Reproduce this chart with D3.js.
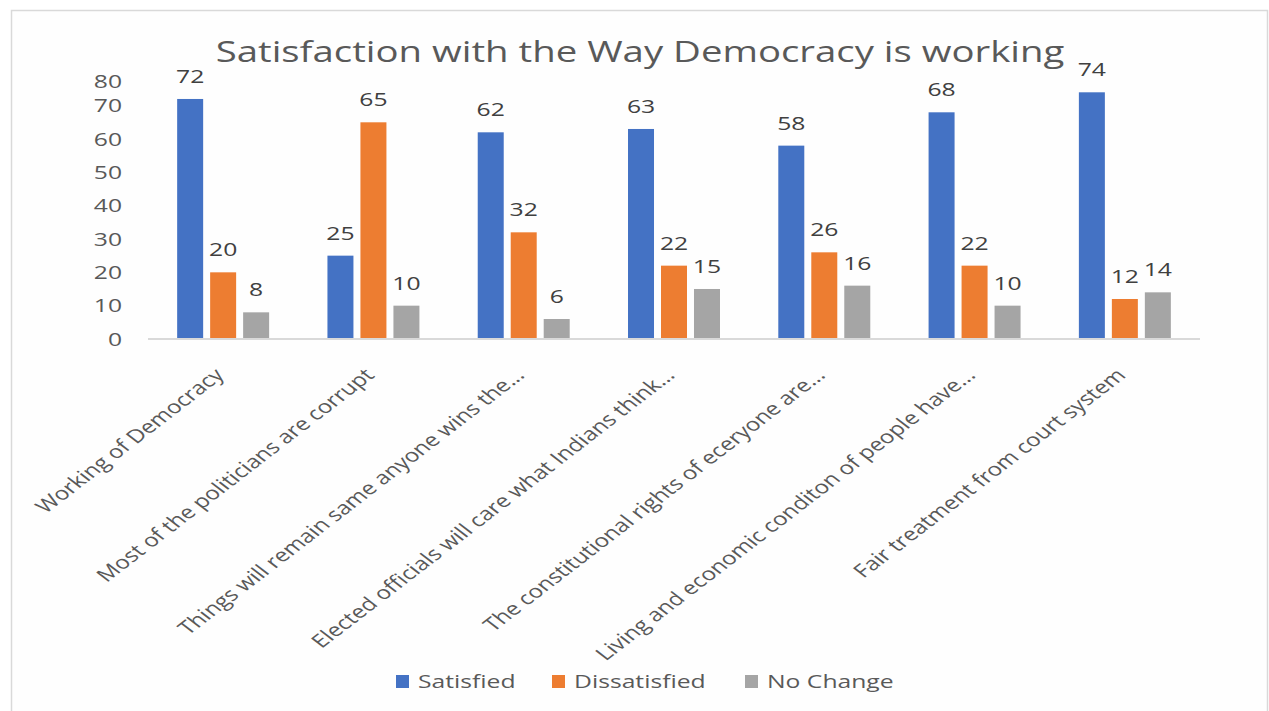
<!DOCTYPE html>
<html>
<head>
<meta charset="utf-8">
<script src="https://cdn.jsdelivr.net/npm/d3@7"></script>
<style>
  body { margin:0; background:#fff; }
  text { font-family:"Open Sans", "Noto Sans", sans-serif; }
</style>
</head>
<body>
<svg id="chart" width="1269" height="711"></svg>
<script>
const categories = [
  "Working of Democracy",
  "Most of the politicians are corrupt",
  "Things will remain same anyone wins the...",
  "Elected officials will care what Indians think...",
  "The constitutional rights of eceryone are...",
  "Living and economic conditon of people have...",
  "Fair treatment from court system"
]
const seriesNames = ["Satisfied", "Dissatisfied", "No Change"]
const satisfied = [72, 25, 62, 63, 58, 68, 74]
const dissatisfied = [20, 65, 32, 22, 26, 22, 12]
const noChange = [8, 10, 6, 15, 16, 10, 14]
const yTicks = [0, 10, 20, 30, 40, 50, 60, 70, 80]

const colors = ["#4472c4", "#ed7d31", "#a5a5a5"]
const values = [satisfied, dissatisfied, noChange]
const sx = 1.3 // the original picture is stretched sideways, so is its text

const svg = d3.select("#chart")

// outer frame
svg.append("rect")
.attr("x", 11.5)
.attr("y", 10.5)
.attr("width", 1256)
.attr("height", 720)
.attr("fill", "#fefefe")
.attr("stroke", "#d9d9d9")
.attr("stroke-width", 1.5)

const x0 = d3.scaleBand()
.domain(categories)
.range([148, 1200])
.paddingInner(0.388)
.paddingOuter(0.194)

const x1 = d3.scaleBand()
.domain(seriesNames)
.range([0, x0.bandwidth()])
.paddingInner(0.212)

const y = d3.scaleLinear()
.domain([0, 80])
.range([339, 72.3])

// title
svg.append("text")
.attr("transform", "translate(640,62) scale(" + sx + ",1)")
.attr("text-anchor", "middle")
.attr("font-size", 29.5)
.attr("fill", "#595959")
.text("Satisfaction with the Way Democracy is working")

// y axis labels (no line)
const yAxis = svg.append("g")
.attr("transform", "translate(122,0)")
.call(d3.axisLeft(y).tickValues(yTicks).tickSize(0).tickPadding(0))
yAxis.select(".domain").remove()
yAxis.selectAll("text")
.attr("font-family", "Open Sans")
.attr("font-size", 19)
.attr("fill", "#595959")
.attr("x", 0)
.attr("transform", d => "translate(0," + (d === 80 ? 9 : 0) + ") scale(" + sx + ",1)")

// bars
const groups = svg.append("g").selectAll("g")
.data(categories)
.join("g")
.attr("transform", d => "translate(" + x0(d) + ",0)")

groups.selectAll("rect")
.data((d, i) => seriesNames.map((s, j) => ({s: s, v: values[j][i], c: colors[j]})))
.join("rect")
.attr("x", d => x1(d.s))
.attr("y", d => y(d.v))
.attr("width", x1.bandwidth())
.attr("height", d => y(0) - y(d.v))
.attr("fill", d => d.c)

groups.selectAll("text")
.data((d, i) => seriesNames.map((s, j) => ({s: s, v: values[j][i]})))
.join("text")
.attr("transform", d => "translate(" + (x1(d.s) + x1.bandwidth() / 2) + "," + (y(d.v) - 16) + ") scale(" + sx + ",1)")
.attr("text-anchor", "middle")
.attr("font-size", 19)
.attr("fill", "#404040")
.text(d => d.v)

// x axis line
svg.append("line")
.attr("x1", 148)
.attr("x2", 1200)
.attr("y1", y(0))
.attr("y2", y(0))
.attr("stroke", "#d9d9d9")
.attr("stroke-width", 2)

// rotated category labels
svg.append("g").selectAll("text")
.data(categories)
.join("text")
.attr("transform", d => "translate(" + (x0(d) + x0.bandwidth() / 2 - 10) + ",367) scale(" + sx + ",1) rotate(-45)")
.attr("text-anchor", "end")
.attr("dy", "0.71em")
.attr("font-size", 18.5)
.attr("fill", "#595959")
.text(d => d)

// legend
const legendX = [396, 552, 745]
const legend = svg.append("g").selectAll("g")
.data(seriesNames)
.join("g")
.attr("transform", (d, i) => "translate(" + legendX[i] + ",675)")
legend.append("rect")
.attr("width", 13)
.attr("height", 13)
.attr("fill", (d, i) => colors[i])
legend.append("text")
.attr("transform", "translate(22,12.5) scale(" + sx + ",1)")
.attr("font-size", 19)
.attr("fill", "#595959")
.text(d => d)
</script>
</body>
</html>
